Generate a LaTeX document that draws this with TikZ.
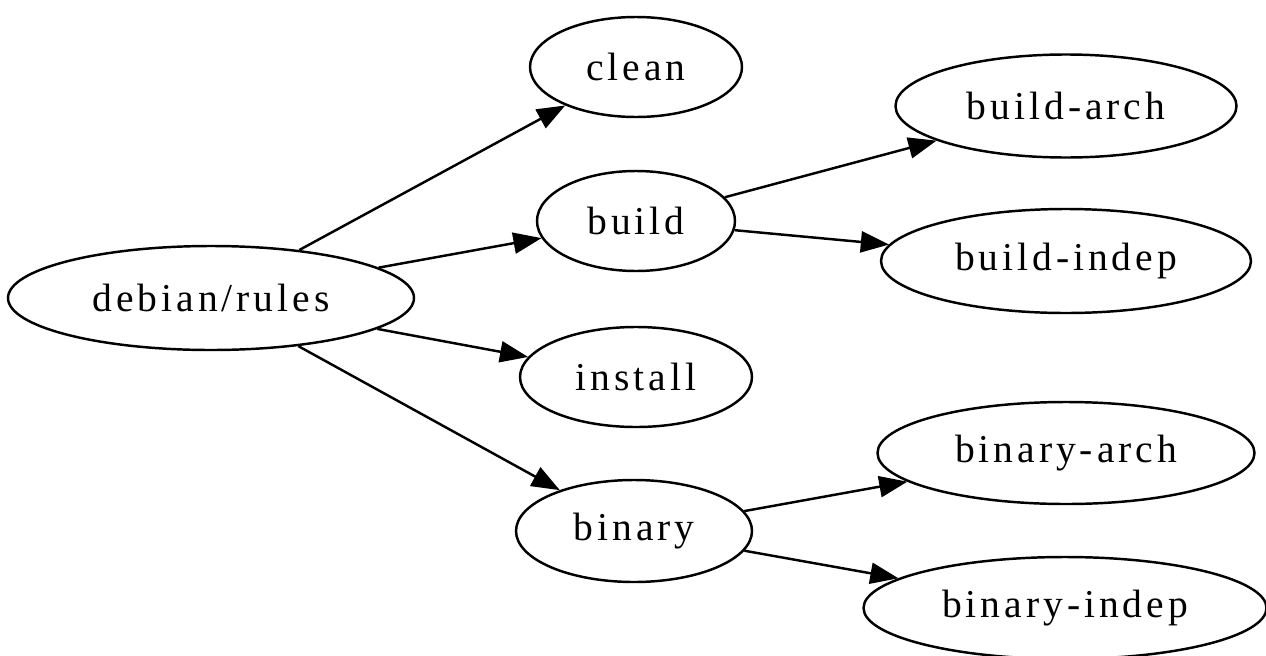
\documentclass[tikz,border=0pt]{standalone}
\usepackage{fontspec}
\setmainfont[LetterSpace=10]{Liberation Serif}
\usepackage{tikz}
\usetikzlibrary{arrows.meta, shapes.geometric}

\begin{document}
\begin{tikzpicture}[line width=1.4pt, every node/.style={ellipse, draw, inner sep=0pt, minimum height=2cm, font=\fontsize{22.5}{27}\selectfont}]
            \useasboundingbox (0,0) rectangle (25.32,-13.1);
            \node[minimum width=8.12cm, minimum height=2.08cm] at (4.22, -5.96)   (rules) {debian/rules};
            \node[minimum width=4.24cm] at (12.72, -1.34)   (clean) {clean};
            \node[minimum width=3.96cm] at (12.72, -4.42)   (build) {build};
            \node[minimum width=4.64cm] at (12.72, -7.54)   (install) {install};
            \node[minimum width=4.72cm, minimum height=2.04cm] at (12.68, -10.62)   (binary) {binary};
            \node[minimum width=6.82cm, minimum height=2.06cm] at (21.32, -2.12)   (buildarch) {build-arch};
            \node[minimum width=7.40cm, minimum height=2.08cm] at (21.32, -5.22)   (buildindep) {build-indep};
            \node[minimum width=7.54cm, minimum height=2.04cm] at (21.32, -9.06)   (binaryarch) {binary-arch};
            \node[minimum width=8.06cm, minimum height=2.04cm] at (21.30, -12.16)   (binaryindep) {binary-indep};
        
            \draw [-{Triangle[length=16pt, width=12pt]}] (rules) -- (clean);
            \draw [-{Triangle[length=16pt, width=12pt]}] (rules) -- (build);
            \draw [-{Triangle[length=16pt, width=12pt]}] (rules) -- (install);
            \draw [-{Triangle[length=16pt, width=12pt]}] (rules) -- (binary);
            \draw [-{Triangle[length=16pt, width=12pt]}] (build) -- (buildarch);
            \draw [-{Triangle[length=16pt, width=12pt]}] (build) -- (buildindep);
            \draw [-{Triangle[length=16pt, width=12pt]}] (binary) -- (binaryarch);
            \draw [-{Triangle[length=16pt, width=12pt]}] (binary) -- (binaryindep);
        \end{tikzpicture}
\end{document}
